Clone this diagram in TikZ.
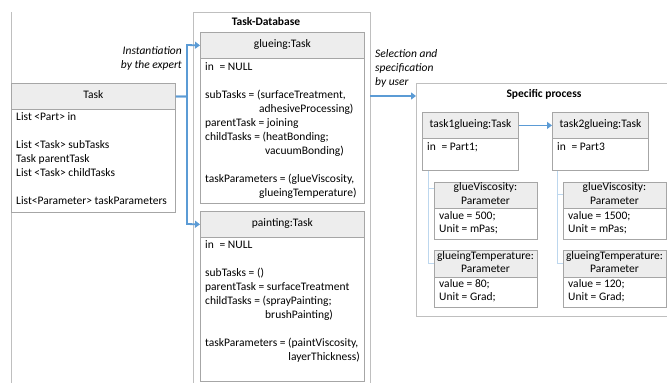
\documentclass[tikz,border=0pt]{standalone}
\usepackage{fontspec}
\setmainfont{Carlito}
\usetikzlibrary{arrows.meta}
\definecolor{boxgray}{HTML}{A6A6A6}
\definecolor{hdrgray}{HTML}{EDEDED}
\definecolor{contgray}{HTML}{BFBFBF}
\definecolor{myblue}{HTML}{5B9BD5}
\definecolor{treeblue}{HTML}{BDD7EE}
\newcommand\bodylines[4]{\foreach \t [count=\i from 0] in {#4} {\node[txt] (#1-\i) at (#2,{#3+14*\i}) {\t};}}
\begin{document}
\begin{tikzpicture}[x=1pt,y=-1pt,
  box/.style={draw=boxgray, line width=0.8pt, rectangle, inner sep=0pt, anchor=north west},
  hdr/.style={box, fill=hdrgray},
  cont/.style={draw=contgray, line width=1pt, rectangle, inner sep=0pt, anchor=north west},
  txt/.style={font=\fontsize{11.5}{13}\selectfont, inner sep=0pt, anchor=mid west},
  ctxt/.style={txt, anchor=mid},
  lbl/.style={txt, font=\fontsize{11.5}{13}\selectfont\itshape},
  ttl/.style={ctxt, font=\fontsize{11.5}{13}\selectfont\bfseries},
  arr/.style={draw=myblue, line width=1.8pt, -{Triangle[length=5pt,width=7pt]}},
  tree/.style={draw=treeblue, line width=0.8pt}]
\useasboundingbox (0,0) rectangle (667,383);
\clip (0,0) rectangle (667,383);
% left container edge
\draw[contgray, line width=1pt] (11,12) -- (11,390);
% Task class
\node[box, minimum width=164pt, minimum height=129pt] (task) at (11,83) {};
\node[hdr, minimum width=164pt, minimum height=26pt] (taskh) at (11,83) {};
\node[ctxt] (taskt) at (taskh.center) {Task};
\bodylines{tk}{16}{118.5}{{List <Part> in},{},{List <Task> subTasks},{Task parentTask},{List <Task> childTasks},{},{List<Parameter> taskParameters}}
% Task-Database container
\node[cont, minimum width=177pt, minimum height=390pt] (db) at (193,12) {};
\node[ttl] (dbt) at (266,23) {Task-Database};
% glueing:Task
\node[box, minimum width=164pt, minimum height=171pt] (g) at (200,32) {};
\node[hdr, minimum width=164pt, minimum height=26pt] (gh) at (200,32) {};
\node[ctxt] (ght) at (gh.center) {glueing:Task};
\bodylines{gl}{205}{68}{{in\enspace= NULL},{},{subTasks = (surfaceTreatment,},{},{parentTask = joining},{childTasks = (heatBonding;},{},{},{taskParameters = (glueViscosity,}}
\node[txt] (gl-c1) at (259,110) {adhesiveProcessing)};
\node[txt] (gl-c2) at (265,152) {vacuumBonding)};
\node[txt] (gl-c3) at (259,194) {glueingTemperature)};
% painting:Task
\node[box, minimum width=164pt, minimum height=170pt] (p) at (200,211) {};
\node[hdr, minimum width=164pt, minimum height=26pt] (ph) at (200,211) {};
\node[ctxt] (pht) at (ph.center) {painting:Task};
\bodylines{pa}{205}{246}{{in\enspace= NULL},{},{subTasks = ()},{parentTask = surfaceTreatment},{childTasks = (sprayPainting;},{},{},{taskParameters = (paintViscosity,}}
\node[txt] (pa-c1) at (265,316) {brushPainting)};
\node[txt, anchor=mid east] (pa-c2) at (360,358) {layerThickness)};
% instantiation arrows
\coordinate (b1) at (187,45);
\coordinate (b2) at (187,224);
\draw[arr] (taskh.east) -| (b1) -- (gh.west);
\draw[arr] (taskh.east) -| (b2) -- (ph.west);
\node[lbl, anchor=mid east] (l1) at (182,52) {Instantiation};
\node[lbl, anchor=mid east] (l2) at (182,66) {by the expert};
% Specific process
\node[cont, minimum width=270pt, minimum height=233pt] (sp) at (416,83) {};
\node[ttl] (spt) at (544,95) {Specific process};
\coordinate (s0) at (370,96);
\draw[arr] (s0) -- (s0 -| sp.west);
\node[lbl] (l3) at (375,55) {Selection and};
\node[lbl] (l4) at (375,69) {specification};
\node[lbl] (l5) at (375,83) {by user};
% task1 / task2
\node[box, minimum width=96pt, minimum height=58pt] (t1) at (422,112) {};
\node[hdr, minimum width=96pt, minimum height=26pt] (t1h) at (422,112) {};
\node[ctxt] (t1t) at (t1h.center) {task1glueing:Task};
\node[txt] (t1b) at (427,148) {in\enspace= Part1;};
\node[box, minimum width=96pt, minimum height=58pt] (t2) at (552,112) {};
\node[hdr, minimum width=96pt, minimum height=26pt] (t2h) at (552,112) {};
\node[ctxt] (t2t) at (t2h.center) {task2glueing:Task};
\node[txt] (t2b) at (557,148) {in\enspace= Part3};
\draw[arr] (t1h.east) -- (t2h.west);
% parameters of task1
\node[box, minimum width=103pt, minimum height=57pt] (p11) at (434,182) {};
\node[hdr, minimum width=103pt, minimum height=26pt] (p11h) at (434,182) {};
\node[ctxt] (p11a) at (485.5,188.5) {glueViscosity:};
\node[ctxt] (p11b) at (485.5,202) {Parameter};
\node[txt] (p11c) at (439,217) {value = 500;};
\node[txt] (p11d) at (439,230) {Unit = mPas;};
\node[box, minimum width=103pt, minimum height=57pt] (p12) at (434,250) {};
\node[hdr, minimum width=103pt, minimum height=27pt] (p12h) at (434,250) {};
\node[ctxt] (p12a) at (485.5,257) {glueingTemperature:};
\node[ctxt] (p12b) at (485.5,270.5) {Parameter};
\node[txt] (p12c) at (439,285.5) {value = 80;};
\node[txt] (p12d) at (439,298.5) {Unit = Grad;};
% parameters of task2
\node[box, minimum width=103pt, minimum height=57pt] (p21) at (563,182) {};
\node[hdr, minimum width=103pt, minimum height=26pt] (p21h) at (563,182) {};
\node[ctxt] (p21a) at (614.5,188.5) {glueViscosity:};
\node[ctxt] (p21b) at (614.5,202) {Parameter};
\node[txt] (p21c) at (568,217) {value = 1500;};
\node[txt] (p21d) at (568,230) {Unit = mPas;};
\node[box, minimum width=103pt, minimum height=57pt] (p22) at (563,250) {};
\node[hdr, minimum width=103pt, minimum height=27pt] (p22h) at (563,250) {};
\node[ctxt] (p22a) at (614.5,257) {glueingTemperature:};
\node[ctxt] (p22b) at (614.5,270.5) {Parameter};
\node[txt] (p22c) at (568,285.5) {value = 120;};
\node[txt] (p22d) at (568,298.5) {Unit = Grad;};
% tree connectors
\coordinate (j1) at ([xshift=6pt]t1.south west);
\coordinate (k11) at ([yshift=-6pt]p11.north west);
\coordinate (k12) at ([yshift=-13pt]p12.north west);
\draw[tree] (j1) |- (k12);
\draw[tree] (k11 -| j1) -- (k11);
\coordinate (j2) at ([xshift=5pt]t2.south west);
\coordinate (k21) at ([yshift=-12pt]p21.north west);
\coordinate (k22) at ([yshift=-13pt]p22.north west);
\draw[tree] (j2) |- (k22);
\draw[tree] (k21 -| j2) -- (k21);
\end{tikzpicture}
\end{document}
